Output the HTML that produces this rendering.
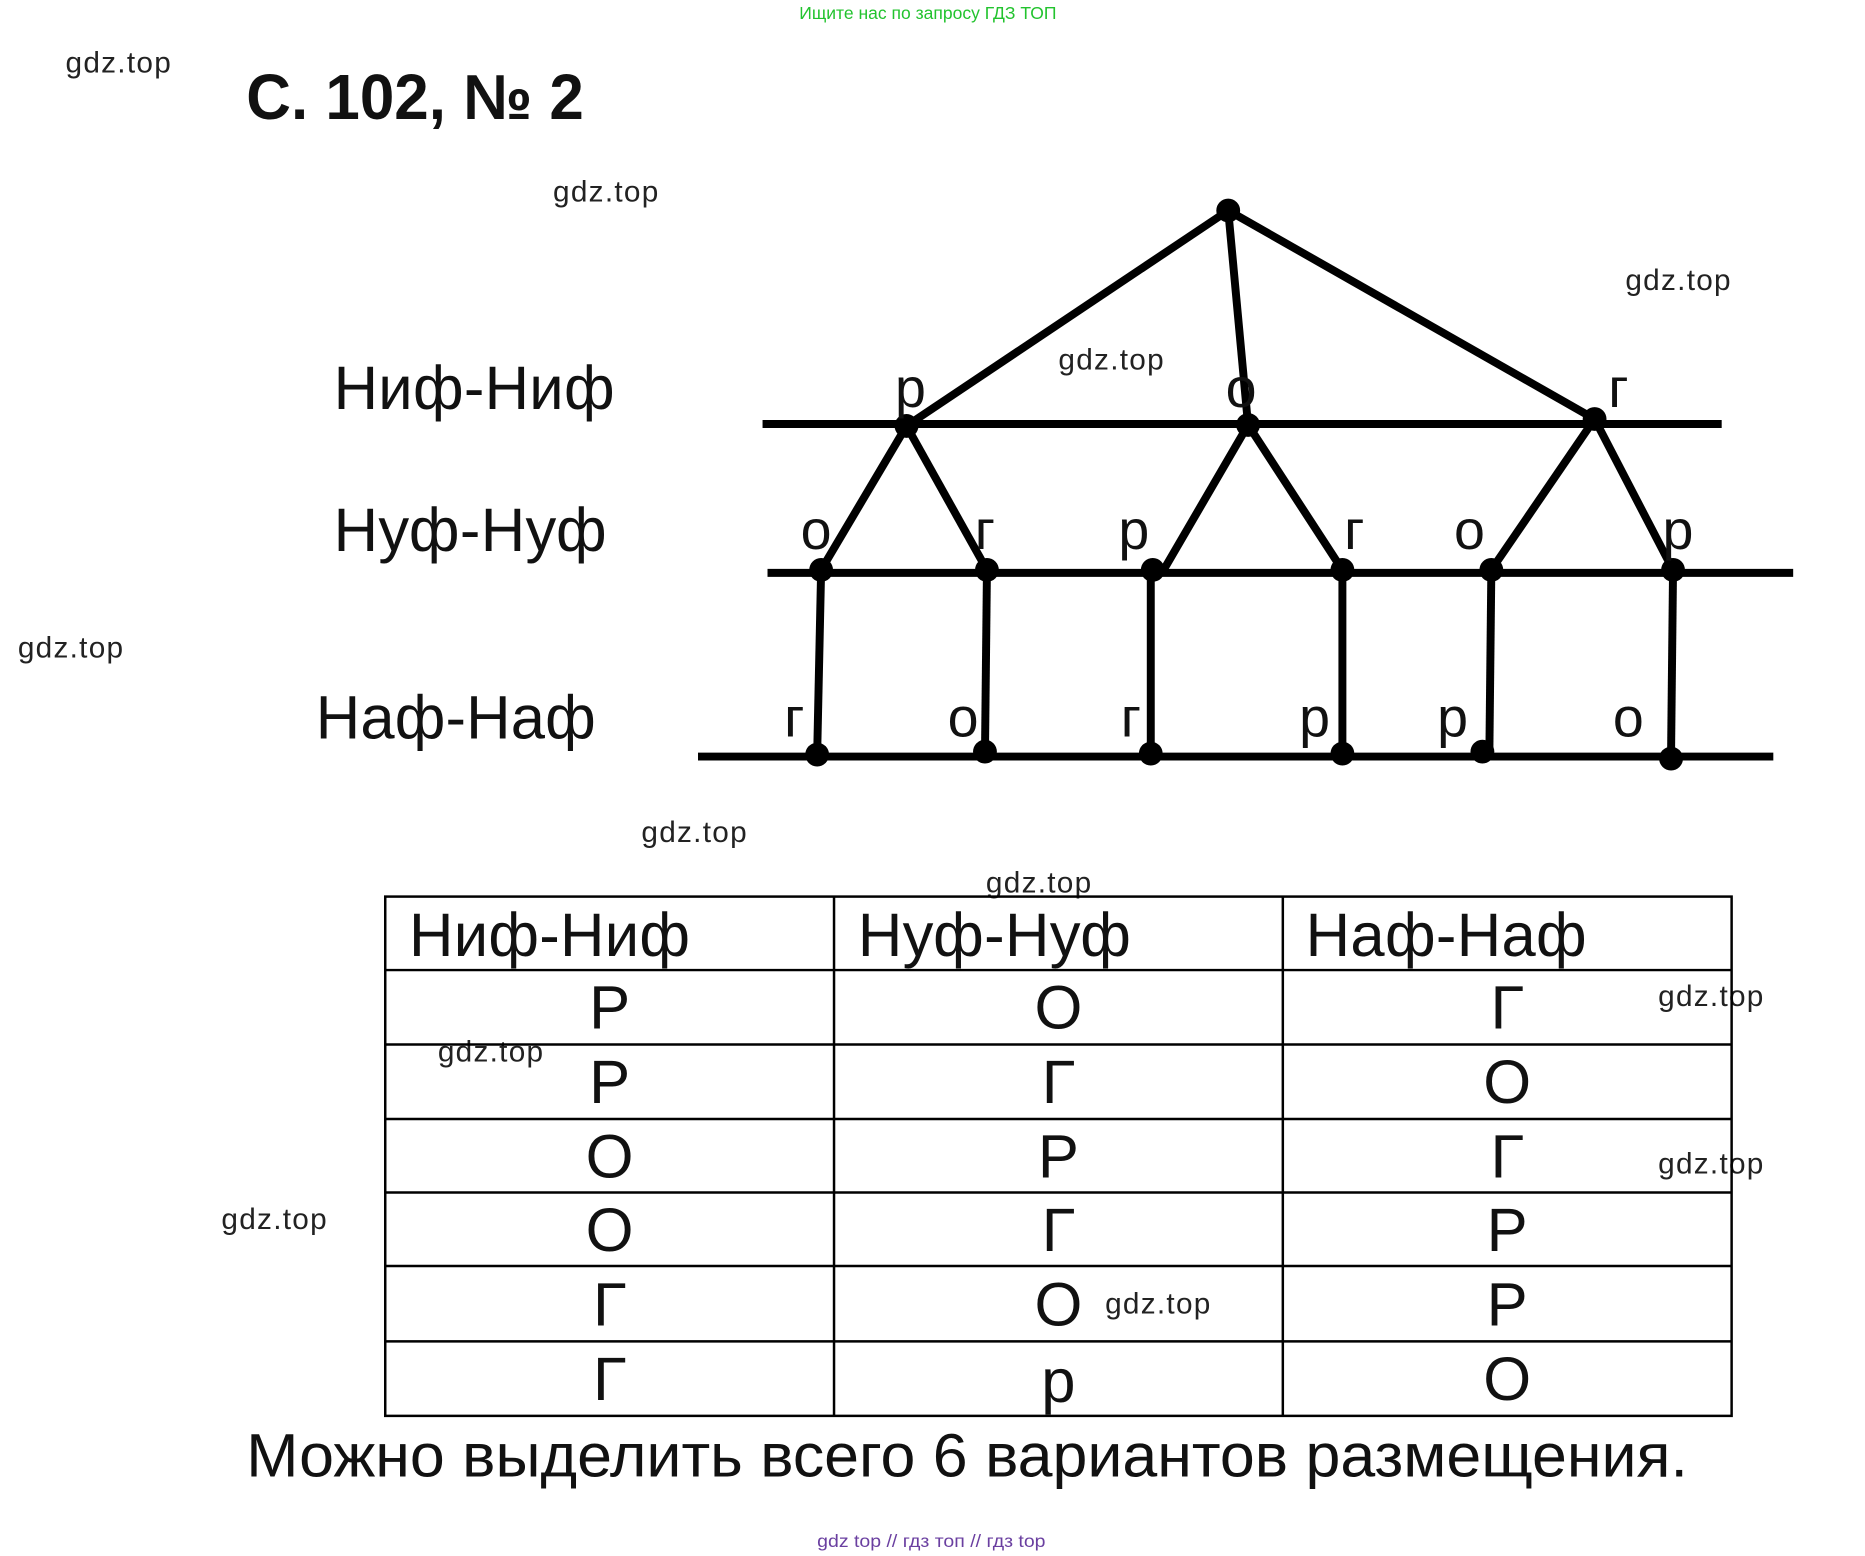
<!DOCTYPE html>
<html><head><meta charset="utf-8"><style>
html,body{margin:0;padding:0;background:#fff;}
svg{display:block;}
text{font-family:"Liberation Sans","DejaVu Sans",sans-serif;}
</style></head><body>
<svg width="1865" height="1556" viewBox="0 0 1865 1556" xmlns="http://www.w3.org/2000/svg">
<g transform="scale(0.9929)">
<text x="805" y="19" font-size="18" fill="#22c32e" textLength="259" lengthAdjust="spacingAndGlyphs">Ищите нас по запросу ГДЗ ТОП</text>
<g font-size="30" fill="#222" lengthAdjust="spacingAndGlyphs">
<text x="66" y="73" textLength="106">gdz.top</text>
<text x="557" y="203" textLength="106">gdz.top</text>
<text x="1637" y="292" textLength="106">gdz.top</text>
<text x="1066" y="372" textLength="106">gdz.top</text>
<text x="18" y="662" textLength="106">gdz.top</text>
<text x="646" y="848" textLength="106">gdz.top</text>
<text x="993" y="899" textLength="106">gdz.top</text>
<text x="1670" y="1013" textLength="106">gdz.top</text>
<text x="441" y="1069" textLength="106">gdz.top</text>
<text x="1670" y="1182" textLength="106">gdz.top</text>
<text x="223" y="1238" textLength="106">gdz.top</text>
<text x="1113" y="1323" textLength="106">gdz.top</text>
</g>
<text x="248" y="120" font-size="64" font-weight="bold" fill="#111" textLength="340" lengthAdjust="spacingAndGlyphs">С. 102, № 2</text>

<g stroke="#000" stroke-width="8" stroke-linecap="butt">
<line x1="768" y1="427" x2="1734" y2="427"/>
<line x1="773" y1="577" x2="1806" y2="577"/>
<line x1="703" y1="762" x2="1786" y2="762"/>
<line x1="1237" y1="212" x2="913" y2="429"/>
<line x1="1237" y1="212" x2="1257" y2="428"/>
<line x1="1237" y1="212" x2="1606" y2="422"/>
<line x1="913" y1="429" x2="827" y2="574"/>
<line x1="913" y1="429" x2="994" y2="574"/>
<line x1="1257" y1="428" x2="1172" y2="574"/>
<line x1="1257" y1="428" x2="1352" y2="574"/>
<line x1="1606" y1="422" x2="1502" y2="574"/>
<line x1="1606" y1="422" x2="1685" y2="574"/>
<line x1="827" y1="574" x2="823" y2="760"/>
<line x1="994" y1="574" x2="992" y2="760"/>
<line x1="1159" y1="574" x2="1159" y2="760"/>
<line x1="1352" y1="574" x2="1352" y2="760"/>
<line x1="1502" y1="574" x2="1500" y2="760"/>
<line x1="1685" y1="574" x2="1683" y2="760"/>
</g>
<g fill="#000">
<circle cx="1237" cy="212" r="12"/>
<circle cx="913" cy="429" r="12"/><circle cx="1257" cy="428" r="12"/><circle cx="1606" cy="422" r="12"/>
<circle cx="827" cy="574" r="12"/><circle cx="994" cy="574" r="12"/><circle cx="1161" cy="574" r="12"/>
<circle cx="1352" cy="574" r="12"/><circle cx="1502" cy="574" r="12"/><circle cx="1685" cy="574" r="12"/>
<circle cx="823" cy="760" r="12"/><circle cx="992" cy="757" r="12"/><circle cx="1159" cy="759" r="12"/>
<circle cx="1352" cy="759" r="12"/><circle cx="1493" cy="757" r="12"/><circle cx="1683" cy="764" r="12"/>
</g>
<g font-size="62" fill="#111" lengthAdjust="spacingAndGlyphs">
<text x="336" y="412" textLength="283">Ниф-Ниф</text>
<text x="336" y="555" textLength="275">Нуф-Нуф</text>
<text x="318" y="744" textLength="282">Наф-Наф</text>
</g>
<g font-size="56" fill="#111" text-anchor="middle">
<text x="917" y="410">р</text><text x="1250" y="410">о</text><text x="1630" y="410">г</text>
<text x="822" y="553">о</text><text x="992" y="553">г</text><text x="1142" y="553">р</text>
<text x="1364" y="553">г</text><text x="1480" y="553">о</text><text x="1690" y="553">р</text>
<text x="800" y="742">г</text><text x="970" y="742">о</text><text x="1139" y="742">г</text>
<text x="1324" y="742">р</text><text x="1463" y="742">р</text><text x="1640" y="742">о</text>
</g>

<g stroke="#000" stroke-width="2.5" fill="none">
<rect x="388" y="903" width="1356" height="523"/>
<line x1="840" y1="903" x2="840" y2="1426"/>
<line x1="1292" y1="903" x2="1292" y2="1426"/>
<line x1="388" y1="977" x2="1744" y2="977"/>
<line x1="388" y1="1052" x2="1744" y2="1052"/>
<line x1="388" y1="1127" x2="1744" y2="1127"/>
<line x1="388" y1="1201" x2="1744" y2="1201"/>
<line x1="388" y1="1275" x2="1744" y2="1275"/>
<line x1="388" y1="1351" x2="1744" y2="1351"/>
</g>
<g font-size="62" fill="#111" lengthAdjust="spacingAndGlyphs">
<text x="412" y="963" textLength="283">Ниф-Ниф</text>
<text x="864" y="963" textLength="275">Нуф-Нуф</text>
<text x="1315" y="963" textLength="283">Наф-Наф</text>
</g>
<g font-size="62" fill="#111" text-anchor="middle">
<text x="614" y="1036">Р</text><text x="1066" y="1036">О</text><text x="1518" y="1036">Г</text>
<text x="614" y="1111">Р</text><text x="1066" y="1111">Г</text><text x="1518" y="1111">О</text>
<text x="614" y="1186">О</text><text x="1066" y="1186">Р</text><text x="1518" y="1186">Г</text>
<text x="614" y="1260">О</text><text x="1066" y="1260">Г</text><text x="1518" y="1260">Р</text>
<text x="614" y="1335">Г</text><text x="1066" y="1335">О</text><text x="1518" y="1335">Р</text>
<text x="614" y="1410">Г</text><text x="1066" y="1412">р</text><text x="1518" y="1410">О</text>
</g>
<text x="248" y="1487" font-size="62" fill="#111" textLength="1452" lengthAdjust="spacingAndGlyphs">Можно выделить всего 6 вариантов размещения.</text>
<text x="823" y="1558" font-size="18" fill="#6a3fa0" textLength="230" lengthAdjust="spacingAndGlyphs">gdz top  //  гдз топ  //  гдз top</text>
</g>
</svg>
</body></html>
